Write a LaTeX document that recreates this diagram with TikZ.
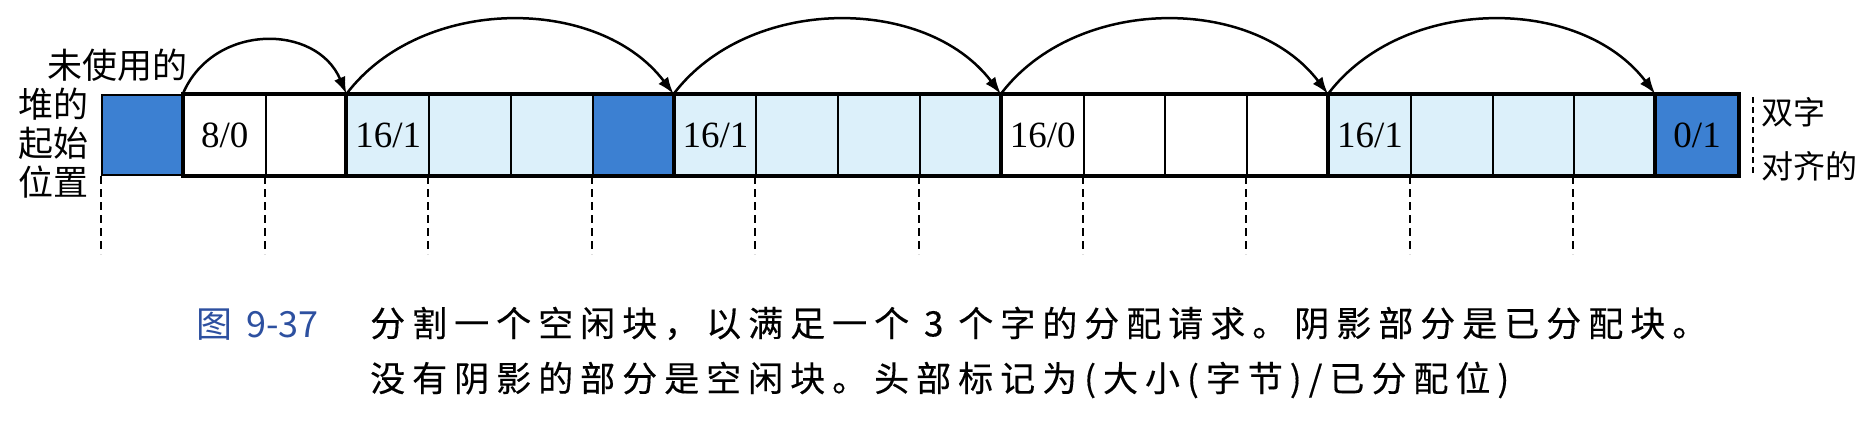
\documentclass[tikz,border=0pt]{standalone}
\usepackage{fontspec}
\setmainfont{Liberation Serif}
\newfontfamily\cjk{Noto Sans CJK SC}
\newfontfamily\cjkcap[LetterSpace=20,FakeBold=0.3]{Noto Sans CJK SC}
\usetikzlibrary{arrows.meta,calc}
\definecolor{darkblk}{RGB}{60,128,210}
\definecolor{lightblk}{RGB}{220,240,250}
\definecolor{capblue}{RGB}{45,80,160}
\newcommand\celllab[1]{\ifcase#1\or 8/0\or\or 16/1\or\or\or\or 16/1\or\or\or\or 16/0\or\or\or\or 16/1\or\or\or\or 0/1\fi}
\begin{document}
\begin{tikzpicture}[x=1pt,y=-1pt,
  cell/.style={draw, line width=2pt, minimum width=81.8pt, minimum height=80pt, inner sep=0pt, font=\fontsize{37}{37}\selectfont},
  thickln/.style={line width=4pt, line cap=rect},
  arcln/.style={line width=2.5pt, -{Latex[length=17pt,width=12pt]}},
  dashln/.style={line width=2pt, dash pattern=on 8pt off 5pt},
  lab/.style={inner sep=0pt, font=\cjk\fontsize{35}{39}\selectfont}]
\useasboundingbox (0,0) rectangle (1875,447);
\fill[white] (0,0) rectangle (1875,447);
% cells
\foreach \i/\f in {0/darkblk,1/white,2/white,3/lightblk,4/lightblk,5/lightblk,6/darkblk,7/lightblk,8/lightblk,9/lightblk,10/lightblk,11/white,12/white,13/white,14/white,15/lightblk,16/lightblk,17/lightblk,18/lightblk,19/darkblk}
  \node[cell, fill=\f] (c\i) at ({142.9+81.8*\i},135) {\celllab{\i}};
% thick outlines
\draw[thickln] (c1.north west) -- (c19.north east);
\draw[thickln] (c1.south west) -- (c19.south east);
\foreach \j in {1,3,7,11,15,19}
  \draw[thickln] (c\j.north west) -- (c\j.south west);
\draw[thickln] (c19.north east) -- (c19.south east);
% arcs
\draw[arcln] (c1.north west) .. controls +(30,-71) and +(-30,-71) .. (c3.north west);
\draw[arcln] (c3.north west) .. controls +(75,-99) and +(-75,-99) .. (c7.north west);
\draw[arcln] (c7.north west) .. controls +(75,-99) and +(-75,-99) .. (c11.north west);
\draw[arcln] (c11.north west) .. controls +(75,-99) and +(-75,-99) .. (c15.north west);
\draw[arcln] (c15.north west) .. controls +(75,-99) and +(-75,-99) .. (c19.north west);
% dashed alignment lines
\foreach \k in {0,2,...,18} {
  \coordinate (d\k) at ($(c\k.south west)+(0,78)$);
  \draw[dashln] (c\k.south west) -- (d\k);
}
\coordinate (r1) at (1753,97);
\coordinate (r2) at (1753,176);
\draw[dashln, line width=1.5pt, dash pattern=on 6pt off 4pt] (r1) -- (r2);
% labels
\node[lab, anchor=east] (unused) at (188,65) {未使用的};
\node[lab, align=center] (hstart) at (53,143) {堆的\\起始\\位置};
\node[lab, anchor=west, align=left, font=\cjk\fontsize{32}{54}\selectfont] (dword) at (1761,139) {双字\\对齐的};
% caption
\node[inner sep=0pt, anchor=west, text=capblue, font=\cjk\fontsize{36}{36}\selectfont] (fig) at (196,325) {图\hspace{14pt}9-37};
\node[inner sep=0pt, anchor=west, align=left, font=\cjkcap\fontsize{35}{55}\selectfont] (cap) at (370,352.5)
  {分割一个空闲块，以满足一个 3 个字的分配请求。阴影部分是已分配块。\\没有阴影的部分是空闲块。头部标记为(大小(字节)/已分配位)};
\end{tikzpicture}
\end{document}
